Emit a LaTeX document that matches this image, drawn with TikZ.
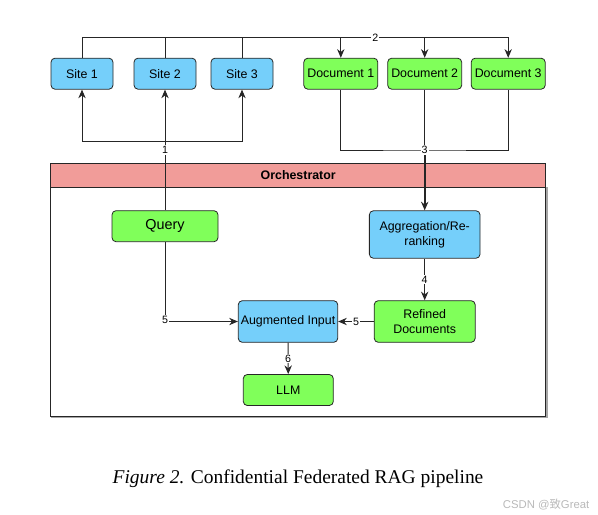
\documentclass[tikz,border=0pt]{standalone}
\usepackage{fontspec}
\setmainfont{Liberation Sans}
\newfontfamily\capfont{Liberation Serif}
\newfontfamily\cjk{Noto Sans CJK SC}
\usetikzlibrary{arrows.meta, positioning}
\definecolor{siteblue}{RGB}{117,207,250}
\definecolor{docgreen}{RGB}{128,255,90}
\definecolor{orchred}{RGB}{241,156,153}
\tikzset{
  box/.style={draw=black!85, rounded corners=3pt, line width=0.6pt, align=center,
    inner sep=1pt, font=\fontsize{9.3}{11}\selectfont, minimum height=23.25pt},
  sitebox/.style={box, fill=siteblue, minimum width=46.5pt},
  docbox/.style={box, fill=docgreen, minimum width=55.5pt},
  lbl/.style={fill=white, inner sep=0.8pt, font=\fontsize{8}{9}\selectfont},
  link/.style={draw=black!85, line width=0.7pt},
}

\begin{document}
\begin{tikzpicture}[x=0.75pt, y=-0.75pt, >={Stealth[length=6.5pt,width=5.5pt]}]
    \useasboundingbox (0,0) rectangle (598,514);
    % orchestrator frame
    \draw[gray!70, line width=1.5pt] (546.6,187.3) -- (546.6,416.9) -- (50.7,416.9);
    \draw[black!85, line width=0.6pt] (50.7,187.3) rectangle (545.7,416);
    \draw[black!85, fill=orchred, line width=0.6pt] (50.7,163.3) rectangle (545.7,187.3);
    \node[font=\bfseries\fontsize{9.3}{11}\selectfont] (orch) at (298.2,175.3) {Orchestrator};

    % sites and documents
    \node[sitebox] (s1) at (82,73.7) {Site 1};
    \node[sitebox] (s2) at (165,73.7) {Site 2};
    \node[sitebox] (s3) at (242,73.7) {Site 3};
    \node[docbox] (d1) at (340.8,73.7) {Document 1};
    \node[docbox] (d2) at (424.7,73.7) {Document 2};
    \node[docbox] (d3) at (508.2,73.7) {Document 3};

    % inside the orchestrator
    \node[box, fill=docgreen, minimum width=79.5pt, font=\fontsize{10.8}{12}\selectfont] (query) at (165,226.2) {Query};
    \node[box, fill=siteblue, minimum width=83pt, minimum height=35.6pt] (agg) at (424.7,234.5) {Aggregation/Re-\\ranking};
    \node[box, fill=docgreen, minimum width=75.7pt, minimum height=31.2pt] (refined) at (424.7,321.5) {Refined\\Documents};
    \node[box, fill=siteblue, minimum width=74.6pt, minimum height=31.2pt] (aug) at (288,321.5) {Augmented Input};
    \node[box, fill=docgreen, minimum width=67.5pt] (llm) at (288.3,390) {LLM};

    % bus points
    \coordinate (top) at (0,37.3);
    \coordinate (sbus) at (165,141.7);
    \coordinate (dbus) at (424.7,150);

    % step 1: query to the sites
    \draw[link, ->] (query.north) -- node[lbl] {1} (s2.south);
    \draw[link, ->] (sbus) -| (s1.south);
    \draw[link, ->] (sbus) -| (s3.south);

    % step 2: sites to documents
    \draw[link, ->] (s1.north) |- node[lbl, pos=0.844] {2} (d3.north |- top) -- (d3.north);
    \draw[link] (s2.north) -- (s2.north |- top);
    \draw[link] (s3.north) -- (s3.north |- top);
    \draw[link, ->] (d1.north |- top) -- (d1.north);
    \draw[link, ->] (d2.north |- top) -- (d2.north);

    % step 3: documents to aggregation
    \draw[link] (d1.south) |- (dbus) -| (d3.south);
    \draw[link] (d2.south) -- (dbus);
    \draw[link, line width=1.2pt, ->] (dbus) node[lbl] {3} -- (agg.north);

    % steps 4 to 6
    \draw[link, ->] (agg) -- node[lbl] {4} (refined);
    \draw[link, ->] (refined) -- node[lbl] {5} (aug);
    \draw[link, ->] (query.south) |- node[lbl, pos=0.49] {5} (aug.west);
    \draw[link, ->] (aug) -- node[lbl] {6} (llm);

    % caption
    \node[font=\capfont\fontsize{14.6}{17}\selectfont] (caption) at (298,479) {\textit{Figure 2.} Confidential Federated RAG pipeline};
    \node[anchor=east, text=gray!55, font=\fontsize{8.5}{10}\selectfont] (mark) at (594,505) {CSDN @{\cjk 致}Great};
\end{tikzpicture}
\end{document}
